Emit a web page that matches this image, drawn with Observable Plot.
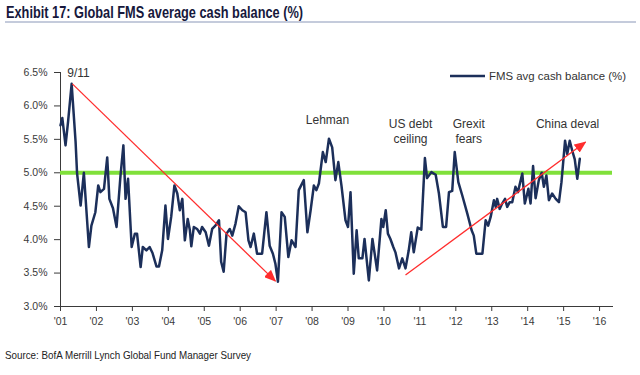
<!DOCTYPE html>
<html>
<head>
<meta charset="utf-8">
<script src="https://cdn.jsdelivr.net/npm/d3@7"></script>
<script src="https://cdn.jsdelivr.net/npm/@observablehq/plot@0.6"></script>
<style>
  html, body { margin: 0; padding: 0; background: #fff; }
  #wrap { position: relative; width: 640px; height: 375px; overflow: hidden; font-family: "Liberation Sans", Arial, sans-serif; }
  #wrap > svg { position: absolute; left: 0; top: 0; }
  .overlay { position: absolute; left: 0; top: 0; pointer-events: none; }
</style>
</head>
<body>
<div id="wrap"></div>
<script>
// ---- data (decimal year, % cash) ----
const years = [
  2001.00, 2001.05, 2001.14, 2001.21, 2001.31, 2001.42, 2001.46, 2001.56, 2001.65, 2001.79,
  2001.86, 2001.97, 2002.05, 2002.11, 2002.21, 2002.30, 2002.36, 2002.46, 2002.56, 2002.67,
  2002.75, 2002.81, 2002.88, 2002.98, 2003.07, 2003.13, 2003.23, 2003.29, 2003.39, 2003.48,
  2003.56, 2003.67, 2003.74, 2003.83, 2003.92, 2003.99, 2004.08, 2004.17, 2004.25, 2004.32,
  2004.39, 2004.46, 2004.54, 2004.60, 2004.64, 2004.71, 2004.80, 2004.88, 2004.94, 2005.04,
  2005.13, 2005.22, 2005.31, 2005.41, 2005.47, 2005.54, 2005.62, 2005.71, 2005.78, 2005.87,
  2005.96, 2006.06, 2006.15, 2006.23, 2006.29, 2006.38, 2006.47, 2006.61, 2006.73, 2006.82,
  2006.91, 2006.98, 2007.05, 2007.15, 2007.24, 2007.34, 2007.43, 2007.54, 2007.63, 2007.77,
  2007.87, 2007.96, 2008.05, 2008.12, 2008.19, 2008.30, 2008.38, 2008.47, 2008.56, 2008.65,
  2008.73, 2008.82, 2008.93, 2009.00, 2009.07, 2009.16, 2009.24, 2009.30, 2009.40, 2009.46,
  2009.58, 2009.68, 2009.75, 2009.81, 2009.93, 2009.98, 2010.05, 2010.11, 2010.18, 2010.26,
  2010.32, 2010.42, 2010.51, 2010.60, 2010.69, 2010.76, 2010.83, 2010.94, 2011.04, 2011.14,
  2011.20, 2011.32, 2011.44, 2011.53, 2011.64, 2011.73, 2011.81, 2011.90, 2011.97, 2012.07,
  2012.18, 2012.32, 2012.44, 2012.50, 2012.57, 2012.74, 2012.83, 2012.90, 2012.97, 2013.06,
  2013.11, 2013.15, 2013.22, 2013.29, 2013.37, 2013.43, 2013.50, 2013.57, 2013.66, 2013.73,
  2013.77, 2013.85, 2013.92, 2014.02, 2014.08, 2014.15, 2014.22, 2014.31, 2014.39, 2014.45,
  2014.52, 2014.59, 2014.68, 2014.78, 2014.87, 2014.94, 2015.04, 2015.10, 2015.17, 2015.24,
  2015.31, 2015.38, 2015.45
];
const cash = [
  5.71, 5.82, 5.41, 5.76, 6.33, 5.46, 5.00, 4.51, 5.00, 3.89,
  4.21, 4.41, 4.81, 4.71, 4.76, 5.23, 4.61, 4.47, 4.19, 4.96,
  5.41, 4.61, 4.91, 3.89, 4.09, 4.09, 3.59, 3.89, 3.84, 3.89,
  3.80, 3.60, 3.60, 3.84, 4.51, 4.01, 4.34, 4.81, 4.69, 4.44,
  4.61, 3.99, 4.31, 4.14, 3.90, 4.19, 4.16, 4.09, 4.19, 4.11,
  3.91, 4.16, 4.21, 4.29, 3.67, 3.52, 4.09, 4.16, 4.06, 4.24,
  4.50, 4.44, 4.41, 3.99, 3.89, 4.09, 3.79, 3.79, 4.41, 3.91,
  3.79, 3.64, 3.37, 4.41, 4.34, 3.74, 3.99, 3.89, 4.74, 4.89,
  4.11, 4.44, 4.81, 4.74, 4.84, 5.31, 5.16, 5.51, 5.38, 4.89,
  5.16, 4.80, 4.29, 4.19, 4.71, 3.49, 4.14, 3.72, 3.72, 4.01,
  3.39, 4.01, 3.76, 3.54, 4.31, 4.19, 4.44, 4.09, 4.01, 3.89,
  3.81, 3.57, 3.72, 3.57, 3.84, 4.11, 3.81, 4.18, 4.15, 5.22,
  4.92, 5.01, 4.97, 4.69, 4.19, 4.19, 4.71, 4.73, 5.31, 4.86,
  4.66, 4.39, 4.14, 4.06, 3.79, 3.79, 4.29, 4.21, 4.34, 4.59,
  4.49, 4.61, 4.46, 4.54, 4.61, 4.49, 4.56, 4.56, 4.79, 4.71,
  4.81, 4.99, 4.54, 4.76, 4.54, 5.10, 4.62, 4.89, 5.00, 4.79,
  4.96, 4.59, 4.69, 4.61, 4.56, 4.86, 5.48, 5.28, 5.48, 5.33,
  5.20, 4.91, 5.21
];

// axis ticks
const xTicks = [2001, 2002, 2003, 2004, 2005, 2006, 2007, 2008, 2009, 2010, 2011, 2012, 2013, 2014, 2015, 2016];
const xLabels = ["'01", "'02", "'03", "'04", "'05", "'06", "'07", "'08", "'09", "'10", "'11", "'12", "'13", "'14", "'15", "'16"];
const yTicks = [3.0, 3.5, 4.0, 4.5, 5.0, 5.5, 6.0, 6.5];
const yLabels = ["3.0%", "3.5%", "4.0%", "4.5%", "5.0%", "5.5%", "6.0%", "6.5%"];

// reference level
const refLevel = [5.0];

// trend arrows (start year, start value, end year, end value)
const arrowX1 = [2001.33, 2010.60];
const arrowY1 = [6.33, 3.47];
const arrowX2 = [2006.98, 2015.61];
const arrowY2 = [3.38, 5.46];

// event annotations
const noteText = ["9/11", "Lehman", "US debt\nceiling", "Grexit\nfears", "China deval"];
const noteX = [2001.50, 2008.43, 2010.74, 2012.36, 2015.11];
const noteY = [6.60, 5.89, 5.84, 5.84, 5.84];

const seriesName = "FMS avg cash balance (%)";
const titleText = "Exhibit 17: Global FMS average cash balance (%)";
const sourceText = "Source: BofA Merrill Lynch Global Fund Manager Survey";

const table = years.map((yr, i) => ({year: yr, cash: cash[i]}));
const arrows = arrowX1.map((x, i) => ({x1: x, y1: arrowY1[i], x2: arrowX2[i], y2: arrowY2[i]}));
const notes = noteText.map((t, i) => ({text: t, x: noteX[i], y: noteY[i]}));

const navy = "#1c2f5a";
const red = "#ff2d2d";
const green = "#80e03a";

const chart = Plot.plot({
  width: 640,
  height: 375,
  marginLeft: 60,
  marginRight: 28,
  marginTop: 72,
  marginBottom: 69,
  style: {fontFamily: "'Liberation Sans', Arial, sans-serif", fontSize: "10.5px", color: "#3a3a3a", background: "transparent", overflow: "visible"},
  x: {domain: [2001, 2016.36], ticks: xTicks, tickFormat: d => xLabels[xTicks.indexOf(d)], tickSize: 5, tickPadding: 6, line: true, label: null},
  y: {domain: [3.0, 6.5], ticks: yTicks, tickFormat: d => yLabels[yTicks.indexOf(d)], tickSize: 6, tickPadding: 7, line: true, label: null},
  marks: [
    Plot.ruleY(refLevel, {stroke: green, strokeWidth: 4}),
    Plot.line(table, {x: "year", y: "cash", stroke: navy, strokeWidth: 2.5, strokeLinejoin: "round"}),
    Plot.link(arrows, {x1: "x1", y1: "y1", x2: "x2", y2: "y2", stroke: red, strokeWidth: 1.3, markerEnd: "arrow"}),
    Plot.text(notes, {x: "x", y: "y", text: "text", lineAnchor: "top", lineHeight: 1.3, fontSize: 12, fill: "#333"})
  ]
});

const wrap = document.getElementById("wrap");
wrap.appendChild(chart);

// turn Plot's open arrow markers into filled triangular heads
const svgNS = "http://www.w3.org/2000/svg";
chart.querySelectorAll("marker").forEach(m => {
  m.setAttribute("viewBox", "0 0 12 10");
  m.setAttribute("refX", "11");
  m.setAttribute("refY", "5");
  m.setAttribute("markerWidth", "12");
  m.setAttribute("markerHeight", "10");
  m.setAttribute("markerUnits", "userSpaceOnUse");
  m.setAttribute("orient", "auto");
  m.setAttribute("fill", red);
  m.setAttribute("stroke", "none");
  m.innerHTML = "";
  const p = document.createElementNS(svgNS, "path");
  p.setAttribute("d", "M0,0L12,5L0,10Z");
  p.setAttribute("fill", red);
  p.setAttribute("stroke", "none");
  m.appendChild(p);
});

// title, legend and source overlay
const ov = document.createElementNS(svgNS, "svg");
ov.setAttribute("class", "overlay");
ov.setAttribute("width", "640");
ov.setAttribute("height", "375");
ov.innerHTML = `
  <text x="6" y="17.5" font-family="'Liberation Sans', Arial, sans-serif" font-weight="bold" font-size="17" fill="#16183c" textLength="297" lengthAdjust="spacingAndGlyphs">${titleText}</text>
  <line x1="5" x2="636" y1="22" y2="22" stroke="#8a97b8" stroke-width="1"/>
  <line x1="450" x2="485" y1="76" y2="76" stroke="${navy}" stroke-width="2.4"/>
  <text x="489" y="80" font-family="'Liberation Sans', Arial, sans-serif" font-size="11" fill="#333" textLength="137" lengthAdjust="spacingAndGlyphs">${seriesName}</text>
  <text x="5" y="359" font-family="'Liberation Sans', Arial, sans-serif" font-size="11" fill="#222" textLength="246" lengthAdjust="spacingAndGlyphs">${sourceText}</text>
`;
wrap.appendChild(ov);
</script>
</body>
</html>
